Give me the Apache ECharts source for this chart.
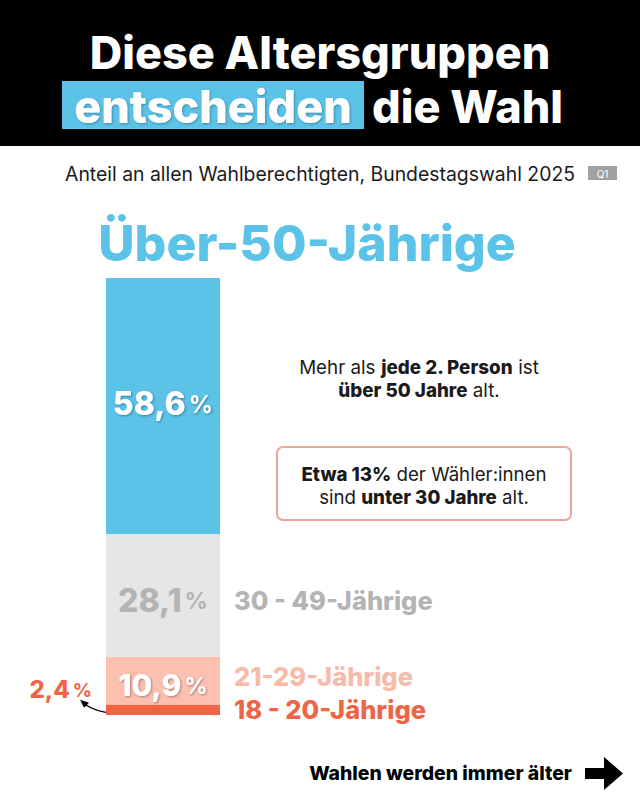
<!DOCTYPE html>
<html>
<head>
<meta charset="utf-8">
<script src="https://cdn.jsdelivr.net/npm/echarts@6/dist/echarts.min.js"></script>
<style>
html,body{margin:0;padding:0;background:#fff;}
#chart{width:640px;height:800px;}
</style>
</head>
<body>
<div id="chart"></div>
<script>
// ---- data ----
const categories = ['Wahlberechtigte'];
const groupNames = ['18 - 20-Jährige', '21-29-Jährige', '30 - 49-Jährige', 'Über-50-Jährige'];
const shares = [2.4, 10.9, 28.1, 58.6];
const shareLabels = ['2,4', '10,9', '28,1', '58,6'];
const titleLine1 = 'Diese Altersgruppen';
const titleHighlight = 'entscheiden';
const titleRest = 'die Wahl';
const subtitle = 'Anteil an allen Wahlberechtigten, Bundestagswahl 2025';
const badge = 'Q1';
const footer = 'Wahlen werden immer älter';

// ---- styles ----
const BLUE = '#5BC2E8';
const GRAY = '#E6E6E6';
const GRAYTXT = '#B4B4B4';
const SALMON = '#FBC0B0';
const SALMONTXT = '#F7BBA9';
const RED = '#EF6445';
const FONT = 'Inter, "Noto Sans", sans-serif';

const segColors = [RED, SALMON, GRAY, BLUE];
const pctStyle = [
  {color: RED, size: 24, pct: 19, pos: 'left', dist: 14, off: [0, -20], shadow: false},
  {color: '#fff', size: 30, pct: 23, pos: 'inside', dist: 0, off: [0, 4], shadow: true},
  {color: GRAYTXT, size: 32, pct: 23, pos: 'inside', dist: 0, off: [0, 5], shadow: false},
  {color: '#fff', size: 32, pct: 24, pos: 'inside', dist: 0, off: [0, -3], shadow: true}
];
const nameStyle = [
  {color: RED, off: [0, 0], show: true},
  {color: SALMONTXT, off: [0, -4], show: true},
  {color: GRAYTXT, off: [0, 5], show: true},
  {color: BLUE, off: [0, 0], show: false}
];

const series = [];
shares.forEach((v, i) => {
  const ps = pctStyle[i];
  const sh = ps.shadow;
  series.push({
    name: groupNames[i],
    type: 'bar',
    stack: 'share',
    xAxisIndex: 0,
    barWidth: '100%',
    data: [v],
    itemStyle: {color: segColors[i]},
    silent: true,
    label: {
      show: true,
      position: ps.pos,
      distance: ps.dist,
      offset: ps.off,
      formatter: () => '{n|' + shareLabels[i] + '}{p|%}',
      rich: {
        n: {fontFamily: FONT, fontWeight: 800, fontSize: ps.size, color: ps.color,
            textShadowColor: sh ? 'rgba(0,0,0,0.35)' : 'transparent', textShadowBlur: sh ? 2 : 0,
            textShadowOffsetX: sh ? 1 : 0, textShadowOffsetY: sh ? 1 : 0},
        p: {fontFamily: FONT, fontWeight: 700, fontSize: ps.pct, color: ps.color, padding: [2, 0, 0, 3],
            textShadowColor: sh ? 'rgba(0,0,0,0.35)' : 'transparent', textShadowBlur: sh ? 2 : 0,
            textShadowOffsetX: sh ? 1 : 0, textShadowOffsetY: sh ? 1 : 0}
      }
    }
  });
});
shares.forEach((v, i) => {
  const ns = nameStyle[i];
  series.push({
    name: groupNames[i] + ' Name',
    type: 'bar',
    stack: 'names',
    xAxisIndex: 1,
    barWidth: '100%',
    data: [v],
    itemStyle: {color: 'rgba(0,0,0,0)'},
    silent: true,
    label: {
      show: ns.show,
      position: 'right',
      distance: 14,
      offset: ns.off,
      formatter: groupNames[i],
      fontFamily: FONT, fontWeight: 800, fontSize: 25.5, color: ns.color
    }
  });
});

const chart = echarts.init(document.getElementById('chart'), null, {renderer: 'svg'});
const option = {
  animation: false,
  backgroundColor: '#fff',
  grid: {left: 106, top: 278, width: 114, height: 437},
  xAxis: [
    {type: 'category', data: categories, show: false},
    {type: 'category', data: categories, show: false}
  ],
  yAxis: {type: 'value', min: 0, max: 100, show: false},
  series: series,
  graphic: [
    {type: 'rect', shape: {x: 0, y: 0, width: 640, height: 146}, style: {fill: '#000'}, z: 0},
    {type: 'text', x: 320, y: 52, style: {text: titleLine1, fill: '#fff', font: '800 45px ' + FONT, lineHeight: 46, textAlign: 'center', textVerticalAlign: 'middle'}},
    {type: 'rect', shape: {x: 62, y: 81, width: 302, height: 48}, style: {fill: BLUE}},
    {type: 'text', x: 213, y: 106, style: {text: titleHighlight, fill: '#fff', font: '800 45px ' + FONT, lineHeight: 46, textAlign: 'center', textVerticalAlign: 'middle',
      textShadowColor: 'rgba(0,0,0,0.3)', textShadowBlur: 2, textShadowOffsetX: 1, textShadowOffsetY: 1}},
    {type: 'text', x: 372, y: 106, style: {text: titleRest, fill: '#fff', font: '800 45px ' + FONT, lineHeight: 46, textAlign: 'left', textVerticalAlign: 'middle'}},
    {type: 'text', x: 65, y: 174, style: {text: subtitle, fill: '#1a1a1a', font: '400 19.4px ' + FONT, textAlign: 'left', textVerticalAlign: 'middle'}},
    {type: 'rect', shape: {x: 588, y: 166, width: 29, height: 14}, style: {fill: '#A0A0A0'}},
    {type: 'text', x: 602.5, y: 173.5, style: {text: badge, fill: '#fff', font: '400 10px ' + FONT, textAlign: 'center', textVerticalAlign: 'middle'}},
    {type: 'text', x: 307, y: 243, style: {text: groupNames[3], fill: BLUE, font: '800 50px ' + FONT, textAlign: 'center', textVerticalAlign: 'middle'}},
    {type: 'text', x: 419, y: 379, style: {
      text: 'Mehr als {b|jede 2. Person} ist\n{b|über 50 Jahre} alt.',
      fill: '#1a1a1a', font: '400 18.8px ' + FONT, lineHeight: 23, textAlign: 'center', textVerticalAlign: 'middle',
      rich: {b: {fontFamily: FONT, fontWeight: 800, fontSize: 18.8, fill: '#1a1a1a', color: '#1a1a1a', lineHeight: 23}}
    }},
    {type: 'rect', shape: {x: 277, y: 447, width: 294, height: 73, r: 6}, style: {fill: 'none', stroke: '#E9A89B', lineWidth: 2}},
    {type: 'text', x: 424, y: 486, style: {
      text: '{b|Etwa 13%} der Wähler:innen\nsind {b|unter 30 Jahre} alt.',
      fill: '#1a1a1a', font: '400 18.7px ' + FONT, lineHeight: 23, textAlign: 'center', textVerticalAlign: 'middle',
      rich: {b: {fontFamily: FONT, fontWeight: 800, fontSize: 18.7, fill: '#1a1a1a', color: '#1a1a1a', lineHeight: 23}}
    }},
    {type: 'text', x: 572, y: 773, style: {text: footer, fill: '#000', font: '800 19.4px ' + FONT, textAlign: 'right', textVerticalAlign: 'middle'}},
    {type: 'polygon', shape: {points: [[585, 768], [604, 768], [604, 757], [623, 773.5], [604, 790], [604, 779], [585, 779]]}, style: {fill: '#000'}}
  ]
};
chart.setOption(option);

// arrow from the 18-20 segment to its label
const p = chart.convertToPixel({xAxisIndex: 0, yAxisIndex: 0}, [categories[0], shares[0] / 2]);
const bx = p[0] - 57 + 14, by = p[1] + 3;
chart.setOption({
  graphic: option.graphic.concat([
    {type: 'bezierCurve', shape: {x1: bx, y1: by, cpx1: bx - 20, cpy1: by + 2, x2: bx - 36, y2: by - 9}, style: {stroke: '#000', lineWidth: 1.5, fill: 'none'}},
    {type: 'polygon', shape: {points: [[bx - 40, by - 13], [bx - 31, by - 10], [bx - 36, by - 5]]}, style: {fill: '#000'}}
  ])
});
</script>
</body>
</html>
